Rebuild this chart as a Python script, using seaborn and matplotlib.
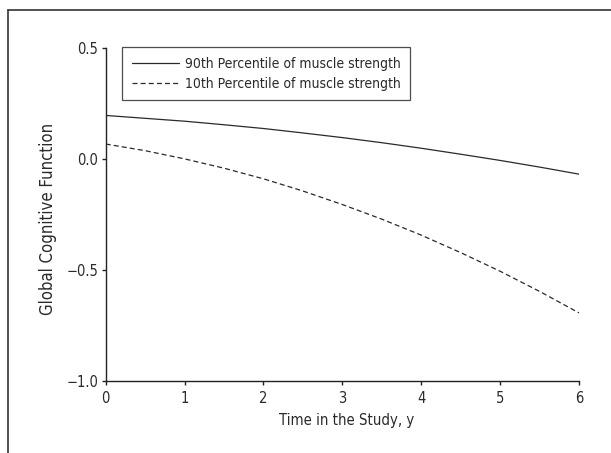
import numpy as np
import pandas as pd
import matplotlib.pyplot as plt
from matplotlib.lines import Line2D
import seaborn as sns

# values
years = [0, 0.5, 1, 1.5, 2, 2.5, 3, 3.5, 4, 4.5, 5, 5.5, 6]
p90 = [0.197, 0.184, 0.171, 0.155, 0.138, 0.118, 0.097, 0.074, 0.049, 0.022, -0.006, -0.036, -0.068]
p10 = [0.068, 0.038, 0.001, -0.041, -0.089, -0.144, -0.205, -0.271, -0.343, -0.422, -0.506, -0.597, -0.694]
labels = ['90th Percentile of muscle strength', '10th Percentile of muscle strength']
x_ticks = [0, 1, 2, 3, 4, 5, 6]
y_ticks = [-1.0, -0.5, 0.0, 0.5]

df = pd.DataFrame({
    'year': years * 2,
    'score': p90 + p10,
    'group': [labels[0]] * len(years) + [labels[1]] * len(years),
})

sns.set_theme(style='ticks')
plt.rcParams['font.family'] = ['DejaVu Sans']
plt.rcParams['font.stretch'] = 'condensed'
plt.rcParams['font.size'] = 10

fig = plt.figure(figsize=(6.11, 4.53), dpi=100)
ax = fig.add_axes([0.173, 0.1596, 0.7746, 0.7338])

line_col = '#2a2a2a'
text_col = '#2a2a2a'
sns.lineplot(data=df[df.group == labels[0]], x='year', y='score', ax=ax,
             color=line_col, lw=0.9, label=labels[0])
sns.lineplot(data=df[df.group == labels[1]], x='year', y='score', ax=ax,
             color=line_col, lw=0.9, ls=(0, (4, 2.5)), label=labels[1])

ax.set_xlim(0, 6)
ax.set_ylim(-1.0, 0.5)
ax.set_xticks(x_ticks)
ax.set_yticks(y_ticks)
ax.set_yticklabels([f'{v:.1f}'.replace('-', '\u2212') for v in y_ticks])
ax.tick_params(axis='both', direction='out', length=3, width=1, color='#222222',
               labelsize=10.5, labelcolor=text_col)
ax.tick_params(axis='x', pad=4.5)
ax.tick_params(axis='y', pad=2.5)
for side in ['top', 'right']:
    ax.spines[side].set_visible(False)
for side in ['left', 'bottom']:
    ax.spines[side].set_color('#222222')
    ax.spines[side].set_linewidth(1)

ax.set_xlabel('Time in the Study, y', fontsize=10.7, color=text_col)
ax.set_ylabel('Global Cognitive Function', fontsize=12, color=text_col)
ax.xaxis.set_label_coords(0.51, -0.098)
ax.yaxis.set_label_coords(-0.103, 0.487)

leg = ax.legend(loc='upper left', bbox_to_anchor=(0.035, 1.003), borderaxespad=0,
                frameon=True, fancybox=False, handlelength=3.4, handletextpad=0.4,
                fontsize=10, labelspacing=0.4, borderpad=0.7)
leg.get_frame().set_edgecolor('#222222')
leg.get_frame().set_linewidth(0.9)
for t in leg.get_texts():
    t.set_color(text_col)

# outer panel frame (top and left edges)
fig.add_artist(Line2D([8 / 611, 1.0], [1 - 10 / 453, 1 - 10 / 453],
                      transform=fig.transFigure, color='#333333', lw=1.2))
fig.add_artist(Line2D([8 / 611, 8 / 611], [0.0, 1 - 10 / 453],
                      transform=fig.transFigure, color='#333333', lw=1.2))

fig.savefig('out.png', dpi=100, facecolor='white')
